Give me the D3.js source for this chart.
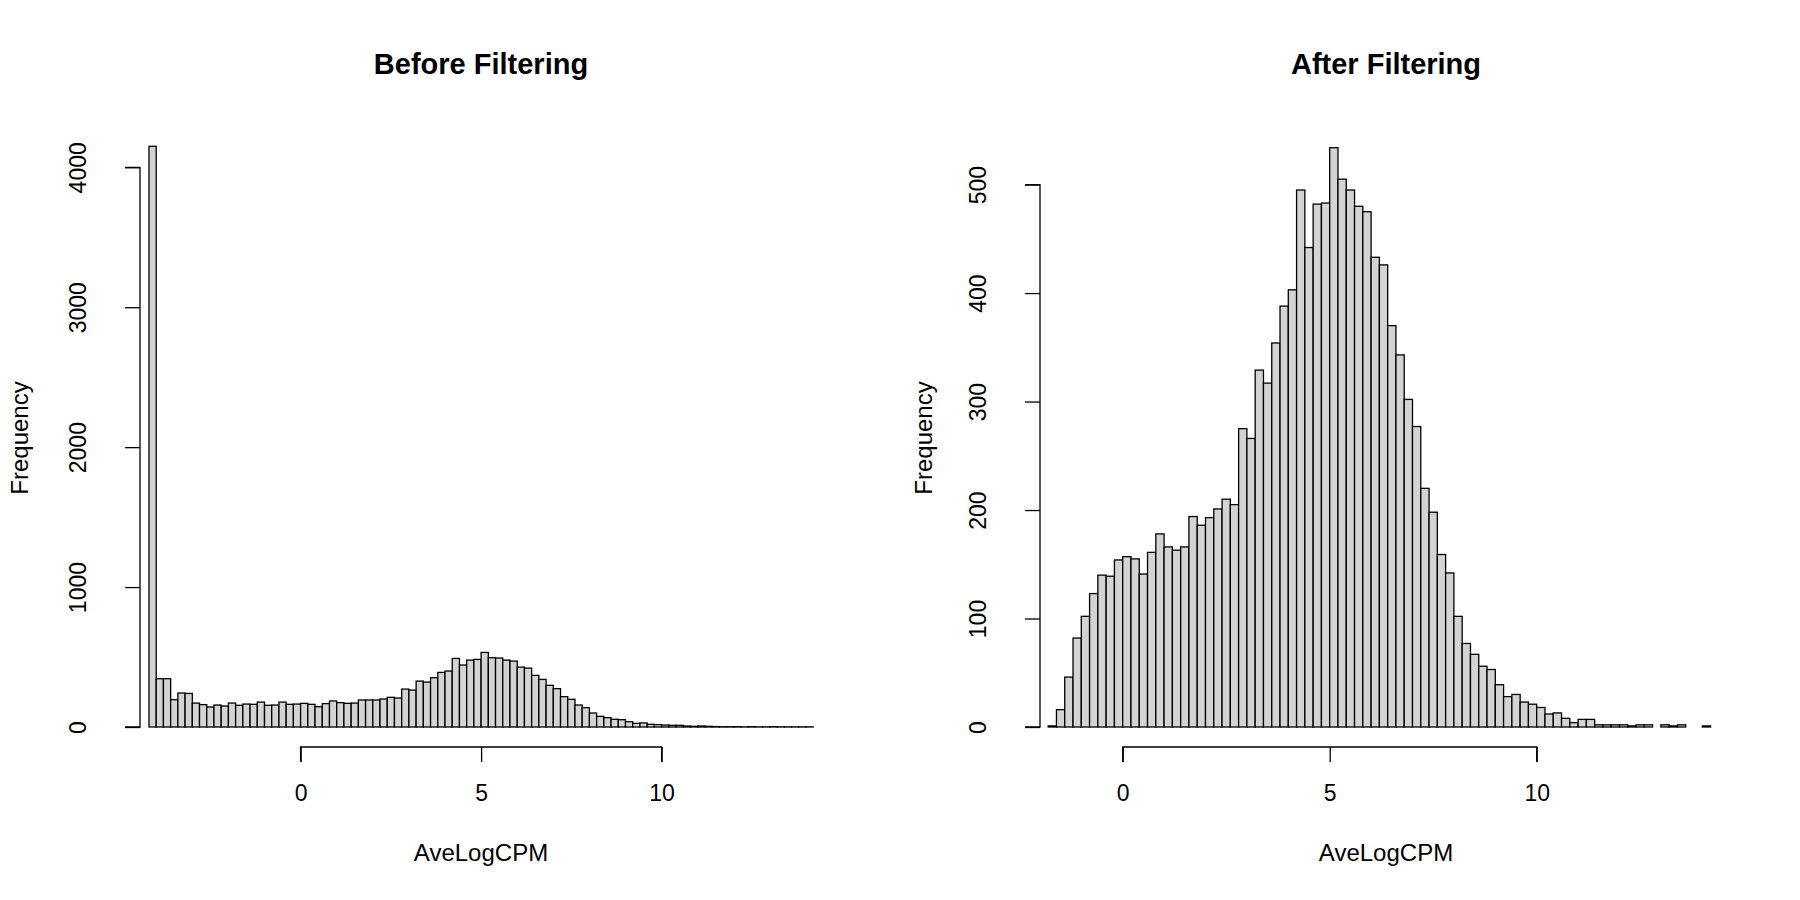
<!DOCTYPE html>
<html>
<head>
<meta charset="utf-8">
<script src="https://cdn.jsdelivr.net/npm/d3@7"></script>
<style>
  body { margin: 0; background: #fff; }
  text { font-family: "Liberation Sans", Arial, sans-serif; fill: #000; }
</style>
</head>
<body>
<svg id="chart" width="1800" height="900"></svg>
<script>
// histogram bins, width 0.2
const beforeStart = -4.2;
const beforeCounts = [4150, 345, 345, 195, 243, 240, 171, 160, 143, 157, 150, 171, 155, 164, 162, 178,
  155, 157, 178, 162, 164, 169, 162, 145, 167, 186, 174, 169, 171, 193, 193, 193, 200, 212, 207,
  271, 264, 328, 321, 352, 390, 400, 490, 443, 478, 483, 533, 495, 493, 478, 471, 428, 421, 369,
  340, 298, 274, 217, 198, 157, 138, 100, 76, 67, 55, 52, 38, 26, 29, 19, 17, 14, 12, 12, 7, 5,
  7, 5, 3, 2, 2, 2, 1, 2, 1, 1, 2, 1, 1, 1, 1, 1];
const afterStart = -1.8;
const afterCounts = [1, 16, 46, 82, 102, 123, 140, 139, 154, 157, 155, 141, 161, 178, 166, 163, 166,
  194, 186, 193, 201, 210, 205, 275, 266, 329, 317, 354, 388, 403, 495, 442, 482, 483, 534, 505,
  495, 480, 475, 433, 426, 370, 343, 302, 277, 220, 198, 159, 142, 102, 77, 67, 56, 53, 39, 28,
  30, 23, 21, 18, 12, 13, 8, 4, 7, 7, 2, 2, 2, 2, 1, 2, 2, 0, 2, 1, 2, 0, 0, 1];
const binWidth = 0.2;
const xTicks = [0, 5, 10];
const beforeYTicks = [0, 1000, 2000, 3000, 4000];
const afterYTicks = [0, 100, 200, 300, 400, 500];

const svg = d3.select("#chart");
const tick = 15;

function panel(opts) {
  const x = d3.scaleLinear().domain([0, 10]).range(opts.xr);
  const y = d3.scaleLinear().domain([0, opts.yTicks[opts.yTicks.length - 1]]).range(opts.yr);
  const bins = opts.counts.map((c, i) => ({ x0: opts.start + i * binWidth, c }));
  const g = svg.append("g");

  g.selectAll("rect").data(bins).enter().append("rect")
    .attr("x", d => x(d.x0))
    .attr("width", d => x(d.x0 + binWidth) - x(d.x0))
    .attr("y", d => y(d.c))
    .attr("height", d => y(0) - y(d.c))
    .attr("fill", "#d3d3d3")
    .attr("stroke", "#000")
    .attr("stroke-width", 1.3);

  const xa = g.append("g").attr("transform", `translate(0,${opts.xAxisY})`)
    .call(d3.axisBottom(x).tickValues(xTicks).tickSize(tick).tickPadding(0).tickFormat(d3.format("d")));
  const ya = g.append("g").attr("transform", `translate(${opts.yAxisX},0)`)
    .call(d3.axisLeft(y).tickValues(opts.yTicks).tickSize(tick).tickPadding(0).tickFormat(d3.format("d")));
  [xa, ya].forEach(a => {
    a.select(".domain").attr("stroke", "#000").attr("stroke-width", 1.3);
    a.selectAll(".tick line").attr("stroke", "#000").attr("stroke-width", 1.3);
    a.selectAll("text").attr("font-size", 23).attr("font-family", "Liberation Sans, Arial, sans-serif");
  });
  // R-style: axis line only spans tick range
  xa.select(".domain").attr("d", `M${x(0)},${tick}V0H${x(10)}V${tick}`);
  xa.selectAll(".tick text").attr("y", 54).attr("dy", null);
  ya.select(".domain").attr("d", `M-${tick},${y(0)}H0V${y(opts.yTicks[opts.yTicks.length - 1])}H-${tick}`);
  ya.selectAll(".tick text")
    .attr("text-anchor", "middle")
    .attr("x", null).attr("dy", null)
    .attr("transform", `translate(${opts.yLabX - opts.yAxisX},0) rotate(-90)`);

  g.append("text").attr("x", opts.cx).attr("y", 74).attr("text-anchor", "middle")
    .attr("font-size", 29).attr("font-weight", "bold").text(opts.title);
  g.append("text").attr("x", opts.cx).attr("y", 861).attr("text-anchor", "middle")
    .attr("font-size", 24).text("AveLogCPM");
  g.append("text").attr("transform", `translate(${opts.fx},438) rotate(-90)`)
    .attr("text-anchor", "middle").attr("font-size", 24).text("Frequency");
}

panel({ title: "Before Filtering", counts: beforeCounts, start: beforeStart, yTicks: beforeYTicks,
  xr: [300.6, 661.6], yr: [727, 167.3], xAxisY: 747, yAxisX: 140, yLabX: 86, cx: 481, fx: 28 });
panel({ title: "After Filtering", counts: afterCounts, start: afterStart, yTicks: afterYTicks,
  xr: [1122.7, 1536.7], yr: [727, 184.6], xAxisY: 747, yAxisX: 1040, yLabX: 986, cx: 1386, fx: 932 });
</script>
</body>
</html>
